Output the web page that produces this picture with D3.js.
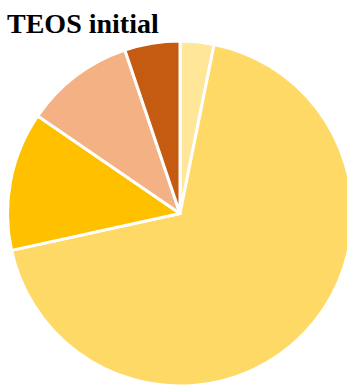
<!DOCTYPE html>
<html><head><meta charset="utf-8">
<script src="https://cdn.jsdelivr.net/npm/d3@7"></script>
<style>body{margin:0;background:#fff}svg{display:block}</style>
</head><body>
<script>
const title = "TEOS initial";
const categories = ["A", "B", "C", "D", "E"];
const values = [3.17, 68.4, 13.0, 10.25, 5.18];
const colors = ["#FFE699", "#FFD966", "#FFC000", "#F4B183", "#C55A11"];

const W = 347, H = 385;
const svg = d3.select("body").append("svg").attr("width", W).attr("height", H);
svg.append("text").attr("x", 7).attr("y", 33)
  .attr("font-family", "Liberation Serif, Times New Roman, serif")
  .attr("font-weight", "bold").attr("font-size", 28).attr("fill", "#000")
  .text(title);

const cx = 180, cy = 213.5, r = 172.5;
const pie = d3.pie().sort(null).value(d => d.v);
const arc = d3.arc().innerRadius(0).outerRadius(r);
const data = categories.map((c, i) => ({c, v: values[i], col: colors[i]}));
svg.append("g").attr("transform", `translate(${cx},${cy})`)
  .selectAll("path").data(pie(data)).join("path")
  .attr("d", arc).attr("fill", d => d.data.col)
  .attr("stroke", "#fff").attr("stroke-width", 3).attr("stroke-linejoin", "round");
</script>
</body></html>
